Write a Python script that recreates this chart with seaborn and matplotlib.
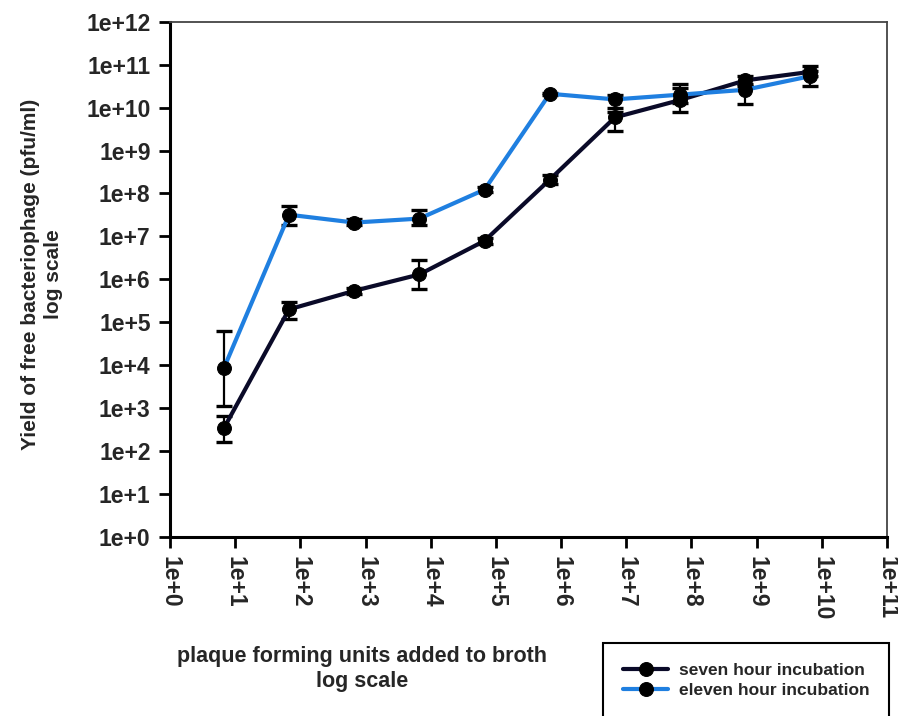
import numpy as np
import pandas as pd
import matplotlib
matplotlib.use("Agg")
import matplotlib.pyplot as plt
import seaborn as sns

# ---- data ----
pfu_added = [6.7, 67, 670, 6.7e3, 6.7e4, 6.7e5, 6.7e6, 6.7e7, 6.7e8, 6.7e9]

seven_hour = [340, 2.0e5, 5.4e5, 1.3e6, 7.9e6, 2.1e8, 5.9e9, 1.5e10, 4.3e10, 6.8e10]
seven_low = [160, 1.2e5, 4.6e5, 5.9e5, 6.8e6, 1.7e8, 2.9e9, 8.0e9, 3.2e10, 5.5e10]
seven_high = [660, 3.0e5, 6.4e5, 2.8e6, 9.2e6, 2.7e8, 8.0e9, 2.8e10, 5.4e10, 9.1e10]

eleven_hour = [8.5e3, 3.2e7, 2.1e7, 2.6e7, 1.23e8, 2.1e10, 1.55e10, 2.0e10, 2.6e10, 5.4e10]
eleven_low = [1.1e3, 1.8e7, 1.8e7, 1.8e7, 1.1e8, 2.0e10, 1.0e10, 1.26e10, 1.2e10, 3.1e10]
eleven_high = [6.3e4, 5.1e7, 2.5e7, 4.1e7, 1.4e8, 2.2e10, 2.0e10, 3.6e10, 3.5e10, 7.0e10]

series_names = ["seven hour incubation", "eleven hour incubation"]
series_colors = ["#0a0a28", "#1f7fe0"]

x_ticks = [1e0, 1e1, 1e2, 1e3, 1e4, 1e5, 1e6, 1e7, 1e8, 1e9, 1e10, 1e11]
x_tick_labels = ["1e+0", "1e+1", "1e+2", "1e+3", "1e+4", "1e+5", "1e+6",
                 "1e+7", "1e+8", "1e+9", "1e+10", "1e+11"]
y_ticks = [1e0, 1e1, 1e2, 1e3, 1e4, 1e5, 1e6, 1e7, 1e8, 1e9, 1e10, 1e11, 1e12]
y_tick_labels = ["1e+0", "1e+1", "1e+2", "1e+3", "1e+4", "1e+5", "1e+6",
                 "1e+7", "1e+8", "1e+9", "1e+10", "1e+11", "1e+12"]

x_label = "plaque forming units added to broth\nlog scale"
y_label = "Yield of free bacteriophage (pfu/ml)\nlog scale"

# ---- build table ----
df = pd.DataFrame({
    "pfu": pfu_added * 2,
    "yield": seven_hour + eleven_hour,
    "low": seven_low + eleven_low,
    "high": seven_high + eleven_high,
    "series": [series_names[0]] * len(pfu_added) + [series_names[1]] * len(pfu_added),
})

sns.set_style("white")
plt.rcParams["font.family"] = ["Liberation Sans", "DejaVu Sans"]
plt.rcParams["font.weight"] = "bold"

fig = plt.figure(figsize=(8.98, 7.16), dpi=100)
ax = fig.add_axes([170 / 898, 1 - 537 / 716, 717 / 898, (537 - 21.7) / 716])

# error bars first (under the markers)
for name in series_names:
    sub = df[df["series"] == name]
    yerr = np.vstack([sub["yield"] - sub["low"], sub["high"] - sub["yield"]])
    ax.errorbar(sub["pfu"], sub["yield"], yerr=yerr, fmt="none",
                ecolor="black", elinewidth=1.6, capsize=6, capthick=2.4, zorder=2)

sns.lineplot(data=df, x="pfu", y="yield", hue="series", hue_order=series_names,
             palette=series_colors, marker="o", markersize=10,
             markerfacecolor="black", markeredgecolor="black",
             linewidth=3, ax=ax, zorder=3, legend=True)

ax.set_xscale("log")
ax.set_yscale("log")
ax.set_xlim(1e0, 1e11)
ax.set_ylim(1e0, 1e12)
ax.set_xticks(x_ticks)
ax.set_xticklabels(x_tick_labels, rotation=-90, fontsize=16.5, fontweight="bold",
                   va="top", ha="center")
ax.set_yticks(y_ticks)
ax.set_yticklabels(y_tick_labels, fontsize=16.5, fontweight="bold")
ax.minorticks_off()
ax.tick_params(axis="both", which="major", direction="out", length=8, width=2,
               color="black", left=True, bottom=True, pad=6)

for s in ["left", "bottom"]:
    ax.spines[s].set_color("black")
    ax.spines[s].set_linewidth(2.2)
for s in ["top", "right"]:
    ax.spines[s].set_color("#444444")
    ax.spines[s].set_linewidth(1.3)

ax.set_xlabel(x_label, fontsize=15.5, fontweight="bold", linespacing=1.25)
ax.xaxis.set_label_coords((362 - 170) / 717, (537 - 646) / 515.3)
ax.set_ylabel(y_label, fontsize=15, fontweight="bold", linespacing=1.25)
ax.yaxis.set_label_coords((63 - 170) / 717, 0.51)

handles, labels = ax.get_legend_handles_labels()
ax.get_legend().remove()
leg = fig.legend(handles, labels, loc="upper left",
                 bbox_to_anchor=(603 / 898, 1 - 643 / 716),
                 bbox_transform=fig.transFigure,
                 prop={"size": 12.5, "weight": "bold"},
                 frameon=True, fancybox=False, framealpha=1,
                 edgecolor="black", handlelength=2.6, handletextpad=0.6,
                 borderpad=1.15, labelspacing=0.3, borderaxespad=0)
leg.get_frame().set_linewidth(1.5)

fig.savefig("out.png", dpi=100)
